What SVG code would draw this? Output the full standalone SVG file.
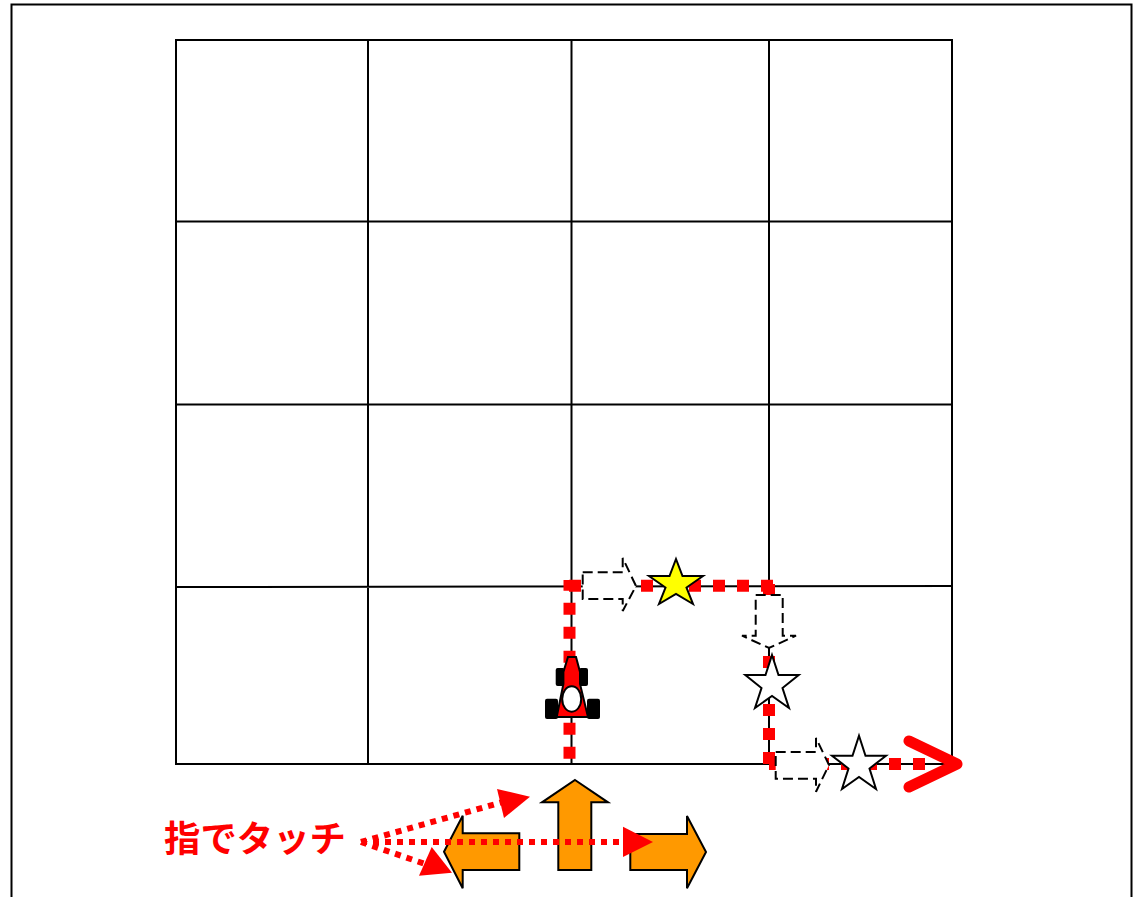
<svg xmlns="http://www.w3.org/2000/svg" width="1135" height="897" viewBox="0 0 1135 897">
<style>
.g{stroke:#000;stroke-width:2;fill:none}
.o{fill:#ff9900;stroke:#000;stroke-width:2}
.d{fill:#fff;stroke:#000;stroke-width:2;stroke-dasharray:10 5}
.s{stroke:#000;stroke-width:2}
.r{fill:none;stroke:#f00;stroke-width:12;stroke-dasharray:12 12}
.t{fill:none;stroke:#f00;stroke-width:6;stroke-dasharray:6 6}
.h{fill:#f00}
</style>
<rect width="1135" height="897" fill="#fff"/>
<rect class="g" x="11.5" y="4.5" width="1120" height="910"/>
<g id="grid">
<rect class="g" x="176" y="40" width="776" height="724"/>
<path class="g" d="M368 40V764M571.500 40V764M769 40V764M176 221.500H952M176 404.500H952M176 587L952 586"/>
</g>
<g id="connectors">
<path class="r" d="M569.500 758.700V580M569 585.700H775M769 584V765M769 764H930"/>
<path d="M909 741L957 764L909 787" fill="none" stroke="#f00" stroke-width="11" stroke-linecap="round" stroke-linejoin="round"/>
</g>
<g id="hint-right-1"><path class="d" d="M582.700 572.300H622.700V558L636 586L622.700 611V599H582.700Z"/></g>
<g id="star-yellow"><path class="s" fill="#ffff00" d="M676 559L682.500 576H703L686.500 587.500L693 604L676 594L659 604L665.500 587.500L649 576H669.500Z"/></g>
<g id="hint-down"><path class="d" d="M755.700 595H782.700V635.700H796L769 648L742 635.700H755.700Z"/></g>
<g id="star-white-1"><path class="s" fill="#fff" d="M772 655L778.500 675H798.700L782.500 688L789 708L772 696L755 708L761.500 688L745.300 675H765.500Z"/></g>
<g id="hint-right-2"><path class="d" d="M775.700 752H816V738L829 765L816 791.700V778.700H775.700Z"/></g>
<g id="star-white-2"><path class="s" fill="#fff" d="M859 735.700L865.500 755.700H886L869.500 768.500L876 789L859 777L842 789L848.500 768.500L832 755.700H852.500Z"/></g>
<g id="car">
<rect x="555.700" y="668" width="9" height="18" rx="2" fill="#000"/>
<rect x="579" y="668" width="9" height="18" rx="2" fill="#000"/>
<rect x="545" y="698.700" width="13" height="20.300" rx="2" fill="#000"/>
<rect x="587" y="698.700" width="13" height="20.300" rx="2" fill="#000"/>
<path class="s" fill="#f00" d="M568 657H576L580 672V684L588 717H556.700L563.400 684V672Z"/>
<ellipse class="s" cx="571.700" cy="699" rx="9.500" ry="12.700" fill="#fff"/>
</g>
<g id="arrow-left"><path class="o" d="M444 851.700L462.700 815.700V833.300H519.300V870H462.700V888.300Z"/></g>
<g id="arrow-up"><path class="o" d="M575 780L608 802.300H591.300V870H558.300V802.300H542Z"/></g>
<g id="arrow-right"><path class="o" d="M630.300 834H687V816L706 852L687 888.300V870H630.300Z"/></g>
<g id="touch-arrows">
<path class="t" d="M361 842H625M361 842L503 802M361 842L428 865"/>
<path class="h" d="M623 826.700L653 842L623 857Z"/>
<path class="h" d="M497 789L530 796.700L504 818Z"/>
<path class="h" d="M431.700 847L452 872.700L419 875.700Z"/>
</g>
<g id="label"><text x="164" y="852" font-family="'Noto Sans CJK JP','Noto Sans',sans-serif" font-size="36.400" font-weight="700" fill="#f00">指でタッチ</text></g>
</svg>
